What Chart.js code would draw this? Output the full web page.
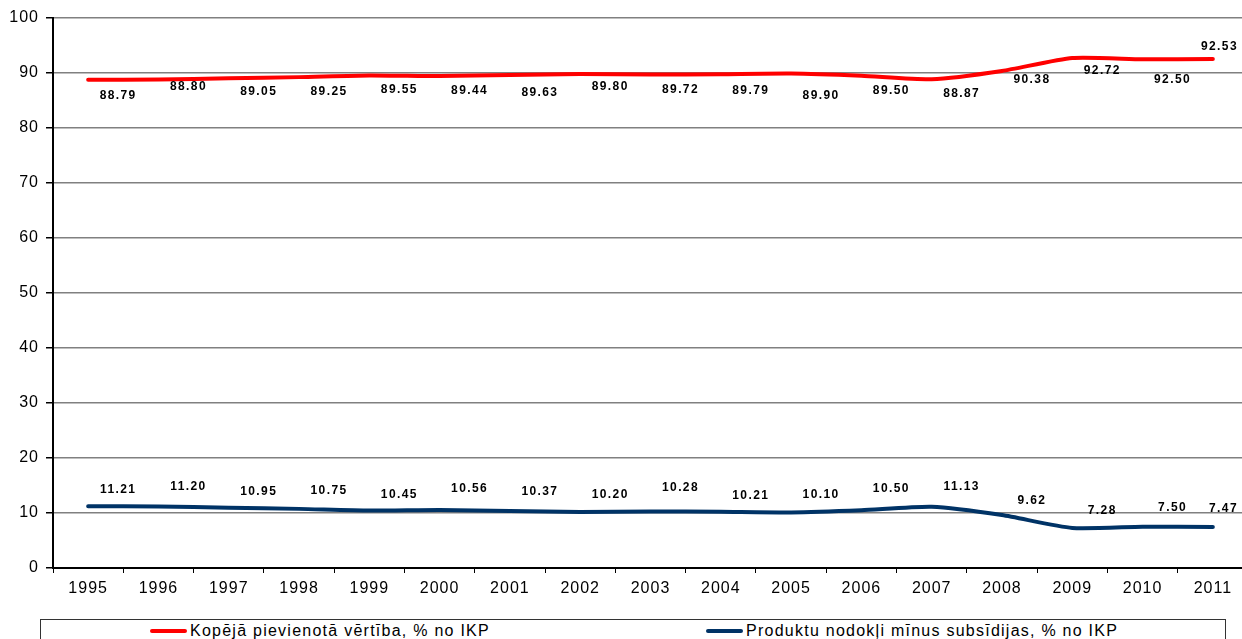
<!DOCTYPE html>
<html lang="lv">
<head>
    <meta charset="UTF-8">
    <title>IKP struktūra</title>
    <script src="https://cdn.jsdelivr.net/npm/chart.js"></script>
    <style>
        body {
            margin: 0;
            padding: 0;
            background: #ffffff;
            overflow: hidden;
            font-family: 'Liberation Sans', Arial, sans-serif;
        }
        .wrap {
            position: relative;
            width: 1250px;
            height: 639px;
        }
        #chart {
            position: absolute;
            left: 0;
            top: 0;
        }
        .legend {
            position: absolute;
            left: 40px;
            top: 619px;
            width: 1186px;
            height: 40px;
            border: 1px solid #333;
            box-sizing: border-box;
        }
        .legend .item {
            position: absolute;
            top: 1px;
            font-size: 16px;
            letter-spacing: 1.25px;
            color: #000;
            white-space: nowrap;
            line-height: 19px;
        }
        .legend .swatch {
            display: inline-block;
            width: 37px;
            height: 4px;
            border-radius: 2px;
            vertical-align: middle;
            margin-right: 3px;
            position: relative;
            top: -1px;
        }
    </style>
</head>
<body>
    <div class="wrap">
        <canvas id="chart" width="1250" height="600"></canvas>
        <div class="legend">
            <div class="item" style="left:109px"><span class="swatch" style="background:#ff0000"></span>Kopējā pievienotā vērtība, % no IKP</div>
            <div class="item" style="left:665px"><span class="swatch" style="background:#003366"></span>Produktu nodokļi mīnus subsīdijas, % no IKP</div>
        </div>
    </div>
    <script>
        const years = ['1995', '1996', '1997', '1998', '1999', '2000', '2001', '2002', '2003',
                       '2004', '2005', '2006', '2007', '2008', '2009', '2010', '2011'];
        const valueAdded = [88.79, 88.80, 89.05, 89.25, 89.55, 89.44, 89.63, 89.80, 89.72,
                            89.79, 89.90, 89.50, 88.87, 90.38, 92.72, 92.50, 92.53];
        const taxesLessSubsidies = [11.21, 11.20, 10.95, 10.75, 10.45, 10.56, 10.37, 10.20, 10.28,
                                    10.21, 10.10, 10.50, 11.13, 9.62, 7.28, 7.50, 7.47];
        const yTicks = [0, 10, 20, 30, 40, 50, 60, 70, 80, 90, 100];

        // label placement (pixels relative to the point) - mimics the original's loose labels
        const redLabelDy = [16, 7, 13, 15, 14, 15, 18, 13, 15, 17, 22, 15, 14, 9, 13, 20, -12];
        const blueLabelDy = [-17, -20, -16, -18, -16, -21, -19, -17, -24, -16, -18, -22, -20, -14, -17, -19, -18];

        const valueLabels = {
            id: 'valueLabels',
            afterDatasetsDraw(chart) {
                const ctx = chart.ctx;
                const maxX = window.innerWidth;
                ctx.save();
                ctx.font = 'bold 12px "Liberation Sans", Arial, sans-serif';
                ctx.letterSpacing = '1.4px';
                ctx.fillStyle = '#000';
                ctx.textAlign = 'center';
                ctx.textBaseline = 'middle';
                chart.data.datasets.forEach((ds, i) => {
                    const meta = chart.getDatasetMeta(i);
                    const dys = i === 0 ? redLabelDy : blueLabelDy;
                    meta.data.forEach((pt, j) => {
                        const txt = ds.data[j].toFixed(2);
                        const w = ctx.measureText(txt).width;
                        let x = pt.x + 30;
                        if (x + w / 2 > maxX - 4) x = maxX - 4 - w / 2;
                        ctx.fillText(txt, x, pt.y + dys[j]);
                    });
                });
                ctx.restore();
            }
        };

        const spacing = {
            id: 'spacing',
            beforeDraw(chart) {
                chart.ctx.letterSpacing = '1px';
            }
        };

        new Chart(document.getElementById('chart').getContext('2d'), {
            type: 'line',
            data: {
                labels: years,
                datasets: [{
                    label: 'Kopējā pievienotā vērtība, % no IKP',
                    data: valueAdded,
                    borderColor: '#ff0000',
                    borderWidth: 4,
                    pointRadius: 0,
                    tension: 0.2,
                    borderCapStyle: 'round'
                }, {
                    label: 'Produktu nodokļi mīnus subsīdijas, % no IKP',
                    data: taxesLessSubsidies,
                    borderColor: '#003366',
                    borderWidth: 4,
                    pointRadius: 0,
                    tension: 0.2,
                    borderCapStyle: 'round'
                }]
            },
            options: {
                responsive: false,
                animation: false,
                layout: { padding: { top: 18, right: 2, left: 0, bottom: 0 } },
                plugins: {
                    legend: { display: false },
                    tooltip: { enabled: false }
                },
                scales: {
                    x: {
                        offset: true,
                        grid: {
                            offset: true,
                            drawOnChartArea: false,
                            color: '#000',
                            tickLength: 5,
                            lineWidth: 1
                        },
                        border: { color: '#000', width: 2 },
                        ticks: {
                            color: '#000',
                            padding: 6,
                            maxRotation: 0,
                            autoSkip: false,
                            font: { family: '"Liberation Sans", Arial, sans-serif', size: 16 }
                        },
                        afterFit(scale) { scale.height = 32; }
                    },
                    y: {
                        min: 0,
                        max: 100,
                        afterBuildTicks(scale) {
                            scale.ticks = yTicks.map(v => ({ value: v }));
                        },
                        grid: {
                            color: '#808080',
                            lineWidth: 1.5,
                            tickLength: 7,
                            tickColor: '#000'
                        },
                        border: { color: '#000', width: 2 },
                        ticks: {
                            color: '#000',
                            padding: 7,
                            font: { family: '"Liberation Sans", Arial, sans-serif', size: 16 }
                        },
                        afterFit(scale) { scale.width = 53; }
                    }
                }
            },
            plugins: [spacing, valueLabels]
        });
    </script>
</body>
</html>
